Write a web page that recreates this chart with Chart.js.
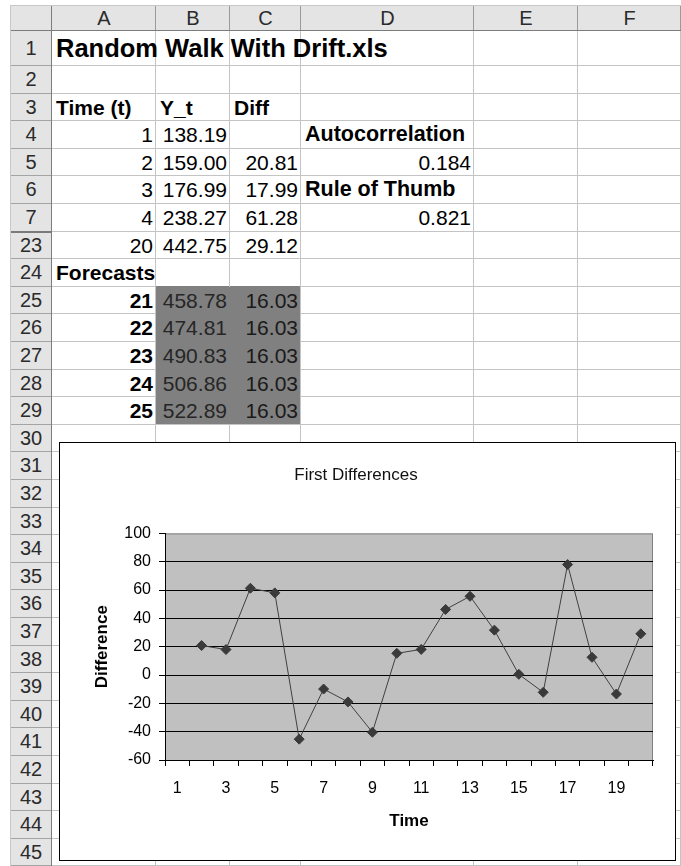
<!DOCTYPE html>
<html>
<head>
<meta charset="utf-8">
<script src="https://cdn.jsdelivr.net/npm/chart.js@4.4.0/dist/chart.umd.min.js"></script>
<style>
    body { margin: 0; background: #fff; }
    #sheet { position: relative; width: 681px; height: 866px; overflow: hidden; font-family: "Liberation Sans", Arial, sans-serif; }
    .hd { position: absolute; background: #e4e4e4; }
    .hdt { position: absolute; text-align: center; color: #2b2b2b; font-size: 20px; }
    .ln { position: absolute; }
    .c { position: absolute; font-size: 21px; white-space: nowrap; color: #000; box-sizing: border-box; padding: 0 4px; }
    .c.r { text-align: right; padding: 0 3px; }
    .c.b { font-weight: bold; }
    .fill { position: absolute; background: #808080; }
    #chartBox { position: absolute; left: 59px; top: 442px; width: 617px; height: 419px; background: #fff; }
    #frame { position: absolute; left: 59px; top: 442px; width: 617px; height: 419px; border: 1px solid #000; box-sizing: border-box; }
</style>
</head>
<body>
<div id="sheet">
    <div id="chartBox"><canvas id="diffChart" width="617" height="419"></canvas></div>
    <div id="frame"></div>
</div>
<script>
    // ---- chart data ----
    const timeLabels = ['1', '2', '3', '4', '5', '6', '7', '8', '9', '10', '11', '12', '13', '14', '15', '16', '17', '18', '19', '20'];
    const firstDiffs = [null, 20.81, 17.99, 61.28, 58.0, -45.3, -9.9, -19.0, -40.4, 15.3, 18.1, 46.3, 55.6, 31.7, 0.5, -12.2, 78.0, 12.5, -13.4, 29.12];
    const yMin = -60, yMax = 100, yStep = 20;

    // ---- sheet contents ----
    const colNames = ['A', 'B', 'C', 'D', 'E', 'F'];
    const rowNames = [1, 2, 3, 4, 5, 6, 7, 23, 24, 25, 26, 27, 28, 29, 30, 31, 32, 33, 34, 35, 36, 37, 38, 39, 40, 41, 42, 43, 44, 45];
    const timeCol = ['1', '2', '3', '4', '20'];
    const ytCol = ['138.19', '159.00', '176.99', '238.27', '442.75'];
    const diffCol = ['', '20.81', '17.99', '61.28', '29.12'];
    const forecastT = ['21', '22', '23', '24', '25'];
    const forecastY = ['458.78', '474.81', '490.83', '506.86', '522.89'];
    const forecastDiff = ['16.03', '16.03', '16.03', '16.03', '16.03'];

    // geometry of the grid
    const colEdges = [52, 156, 230, 301, 474, 578, 681];
    const headTop = 5, headBottom = 31, rowHeadLeft = 10;
    const rowTops = {};
    const rowH = {};
    let y = headBottom;
    rowNames.forEach(function (r) {
        const h = r === 1 ? 35 : 27.6;
        rowTops[r] = y;
        rowH[r] = h;
        y += h;
    });

    const sheet = document.getElementById('sheet');
    const chartBox = document.getElementById('chartBox');

    function el(cls, css, text) {
        const d = document.createElement('div');
        d.className = cls;
        Object.assign(d.style, css);
        if (text !== undefined) d.textContent = text;
        sheet.insertBefore(d, chartBox);
        return d;
    }

    // headers background
    el('hd', { left: rowHeadLeft + 'px', top: headTop + 'px', width: (681 - rowHeadLeft) + 'px', height: (headBottom - headTop) + 'px' });
    el('hd', { left: rowHeadLeft + 'px', top: headBottom + 'px', width: (colEdges[0] - rowHeadLeft) + 'px', height: (866 - headBottom) + 'px' });

    // forecast fill
    el('fill', {
        left: colEdges[1] + 'px', top: rowTops[25] + 'px',
        width: (colEdges[3] - colEdges[1]) + 'px', height: (rowTops[30] - rowTops[25]) + 'px'
    });

    // cell grid lines
    rowNames.forEach(function (r) {
        const by = Math.round(rowTops[r] + rowH[r]) - 1;
        const inFill = r >= 24 && r <= 28;
        el('ln', { left: colEdges[0] + 'px', top: by + 'px', width: (681 - colEdges[0]) + 'px', height: '1px', background: '#c4c4c4' });
        if (inFill) el('ln', { left: colEdges[1] + 'px', top: by + 'px', width: (colEdges[3] - colEdges[1]) + 'px', height: '1px', background: '#808080' });
        el('ln', { left: rowHeadLeft + 'px', top: by + 'px', width: (colEdges[0] - rowHeadLeft) + 'px', height: r === 7 ? '2px' : '1px', background: r === 7 ? '#7a7a7a' : '#a4a4a4' });
    });
    colEdges.slice(1).forEach(function (x) {
        el('ln', { left: (x - 1) + 'px', top: headBottom + 'px', width: '1px', height: (866 - headBottom) + 'px', background: '#c4c4c4' });
        el('ln', { left: (x - 1) + 'px', top: headTop + 'px', width: '1px', height: (headBottom - headTop) + 'px', background: '#9a9a9a' });
    });
    // fill covers the B/C line
    el('fill', { left: (colEdges[2] - 1) + 'px', top: rowTops[25] + 'px', width: '1px', height: (rowTops[30] - rowTops[25] - 1) + 'px' });
    // header separators
    el('ln', { left: (colEdges[0] - 1) + 'px', top: headTop + 'px', width: '1px', height: (866 - headTop) + 'px', background: '#7c7c7c' });
    el('ln', { left: rowHeadLeft + 'px', top: (headBottom - 1) + 'px', width: (681 - rowHeadLeft) + 'px', height: '1px', background: '#7c7c7c' });
    el('ln', { left: rowHeadLeft + 'px', top: headTop + 'px', width: (681 - rowHeadLeft) + 'px', height: '1px', background: '#c8c8c8' });
    el('ln', { left: rowHeadLeft + 'px', top: headTop + 'px', width: '1px', height: (866 - headTop) + 'px', background: '#c8c8c8' });

    // header labels
    colNames.forEach(function (n, i) {
        el('hdt', {
            left: colEdges[i] + 'px', top: headTop + 'px', width: (colEdges[i + 1] - colEdges[i]) + 'px',
            height: (headBottom - headTop) + 'px', lineHeight: (headBottom - headTop) + 'px'
        }, n);
    });
    rowNames.forEach(function (r) {
        el('hdt', {
            left: rowHeadLeft + 'px', top: rowTops[r] + 'px', width: (colEdges[0] - rowHeadLeft) + 'px',
            height: rowH[r] + 'px', lineHeight: rowH[r] + 'px'
        }, String(r));
    });

    // cell text
    function cell(r, col, text, cls, extra) {
        const i = colNames.indexOf(col);
        const css = {
            left: colEdges[i] + 'px', top: rowTops[r] + 'px', height: rowH[r] + 'px', lineHeight: rowH[r] + 'px',
            width: (colEdges[i + 1] - colEdges[i]) + 'px'
        };
        Object.assign(css, extra || {});
        el('c ' + (cls || ''), css, text);
    }

    cell(1, 'A', 'Random Walk With Drift.xls', 'b', { fontSize: '25.5px', width: '400px' });
    cell(3, 'A', 'Time (t)', 'b');
    cell(3, 'B', 'Y_t', 'b');
    cell(3, 'C', 'Diff', 'b');
    const dataRows = [4, 5, 6, 7, 23];
    dataRows.forEach(function (r, k) {
        cell(r, 'A', timeCol[k], 'r');
        cell(r, 'B', ytCol[k], 'r');
        cell(r, 'C', diffCol[k], 'r');
    });
    cell(4, 'D', 'Autocorrelation', 'b', { width: '200px', fontSize: '21.5px' });
    cell(5, 'D', '0.184', 'r');
    cell(6, 'D', 'Rule of Thumb', 'b', { width: '200px', fontSize: '21.5px' });
    cell(7, 'D', '0.821', 'r');
    cell(24, 'A', 'Forecasts', 'b');
    [25, 26, 27, 28, 29].forEach(function (r, k) {
        cell(r, 'A', forecastT[k], 'r b');
        cell(r, 'B', forecastY[k], 'r', { color: '#262626' });
        cell(r, 'C', forecastDiff[k], 'r', { color: '#1a1a1a' });
    });

    // ---- chart ----
    Chart.defaults.font.family = '"Liberation Sans", Arial, sans-serif';
    Chart.defaults.color = '#000';

    const plotBg = {
        id: 'plotBg',
        beforeDraw(chart) {
            const a = chart.chartArea;
            const c = chart.ctx;
            c.save();
            c.fillStyle = '#c0c0c0';
            c.fillRect(a.left, a.top, a.right - a.left, a.bottom - a.top);
            c.strokeStyle = '#808080';
            c.lineWidth = 1;
            c.strokeRect(a.left + 0.5, a.top + 0.5, a.right - a.left - 1, a.bottom - a.top);
            c.restore();
        }
    };

    const ctx = document.getElementById('diffChart').getContext('2d');
    const diffChart = new Chart(ctx, {
        type: 'line',
        data: {
            labels: timeLabels,
            datasets: [{
                data: firstDiffs,
                borderColor: '#404040',
                borderWidth: 1,
                tension: 0,
                pointStyle: 'rectRot',
                pointRadius: 5,
                pointBackgroundColor: '#3a3a3a',
                pointBorderColor: '#3a3a3a',
                pointBorderWidth: 1,
            }]
        },
        options: {
            responsive: false,
            animation: false,
            layout: { padding: { right: 23 } },
            plugins: {
                legend: { display: false },
                tooltip: { enabled: false },
                title: {
                    display: true,
                    text: 'First Differences',
                    color: '#111',
                    font: { size: 17, weight: 'normal' },
                    padding: { top: 23, bottom: 48 },
                }
            },
            scales: {
                x: {
                    offset: true,
                    grid: { offset: true, drawOnChartArea: false, drawTicks: true, tickLength: 6, color: '#000' },
                    border: { color: '#000', width: 1 },
                    ticks: {
                        autoSkip: false,
                        maxRotation: 0,
                        padding: 13,
                        color: '#000',
                        font: { size: 16 },
                        callback: function (value, index) {
                            return index % 2 === 0 ? this.getLabelForValue(value) : '';
                        }
                    },
                    title: {
                        display: true,
                        text: 'Time',
                        color: '#000',
                        font: { size: 17, weight: 'bold' },
                        padding: { top: 0, bottom: 29 },
                    },
                    afterFit: function (scale) { scale.height = 101; }
                },
                y: {
                    min: yMin,
                    max: yMax,
                    ticks: { stepSize: yStep, padding: 8, color: '#000', font: { size: 16 } },
                    grid: {
                        color: function (c) { return c.tick && c.tick.value === yMax ? 'rgba(0,0,0,0)' : '#000'; },
                        tickColor: '#000',
                        tickLength: 6,
                        lineWidth: 1,
                    },
                    border: { color: '#000', width: 1 },
                    title: {
                        display: true,
                        text: 'Difference',
                        color: '#000',
                        font: { size: 17, weight: 'bold' },
                        padding: { top: 33, bottom: 0 },
                    },
                    afterFit: function (scale) { scale.width = 106; }
                }
            }
        },
        plugins: [plotBg]
    });
</script>
</body>
</html>
